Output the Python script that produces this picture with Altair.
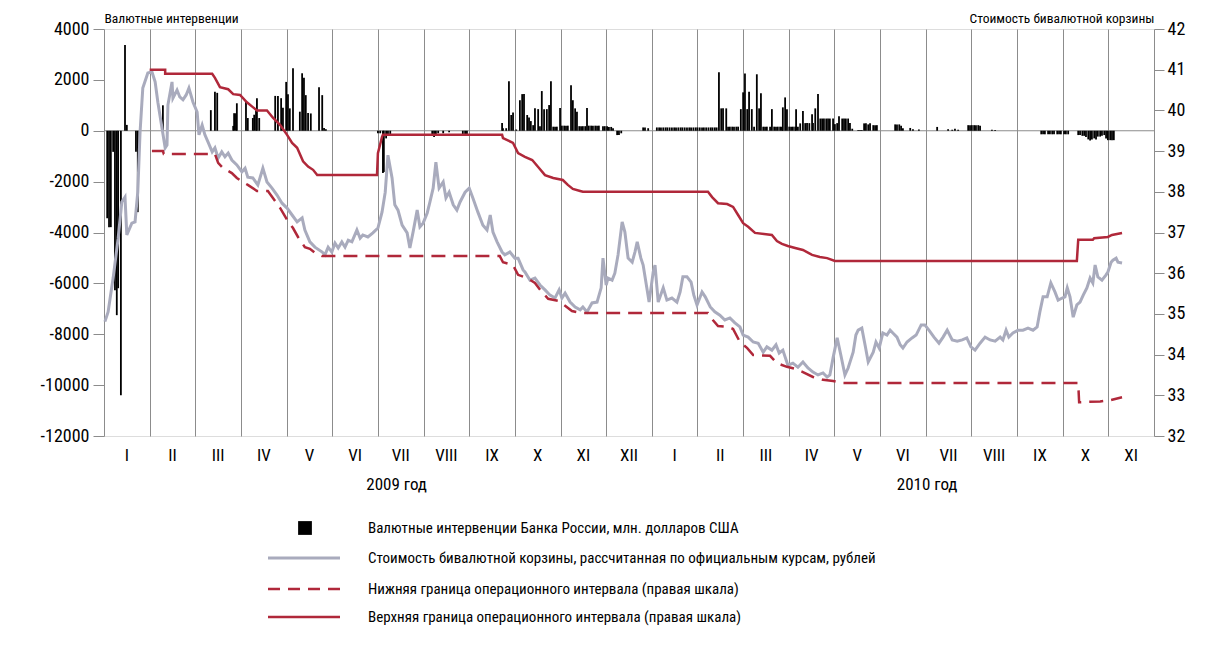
import altair as alt
import pandas as pd

# ---------------- data (x = months since start of January 2009) ----------------
month_labels = ["I", "II", "III", "IV", "V", "VI", "VII", "VIII", "IX", "X", "XI", "XII",
                "I", "II", "III", "IV", "V", "VI", "VII", "VIII", "IX", "X", "XI"]
year_labels = ["2009 год", "2010 год"]
year_pos = [6.41, 18.03]

basket_x = [0.02, 0.09, 0.20, 0.31, 0.39, 0.46, 0.50, 0.61, 0.68, 0.74,
            0.79, 0.85, 0.96, 1.05, 1.12, 1.18, 1.27, 1.34, 1.38, 1.40,
            1.49, 1.51, 1.60, 1.66, 1.73, 1.80, 1.86, 1.95, 2.04, 2.08,
            2.15, 2.21, 2.28, 2.37, 2.43, 2.50, 2.58, 2.65, 2.72, 2.80,
            2.91, 3.02, 3.09, 3.15, 3.26, 3.37, 3.48, 3.57, 3.68, 3.79,
            3.90, 4.01, 4.12, 4.23, 4.34, 4.40, 4.51, 4.62, 4.78, 4.84,
            4.91, 4.99, 5.06, 5.13, 5.21, 5.28, 5.35, 5.43, 5.54, 5.61,
            5.67, 5.78, 5.89, 6.00, 6.09, 6.16, 6.22, 6.31, 6.37, 6.44,
            6.53, 6.64, 6.70, 6.77, 6.86, 6.92, 6.99, 7.08, 7.14, 7.21,
            7.27, 7.34, 7.43, 7.49, 7.56, 7.65, 7.73, 7.80, 7.91, 8.00,
            8.08, 8.19, 8.30, 8.39, 8.46, 8.52, 8.61, 8.72, 8.78, 8.89,
            9.00, 9.07, 9.18, 9.22, 9.33, 9.44, 9.55, 9.66, 9.77, 9.88,
            9.97, 10.03, 10.10, 10.21, 10.32, 10.43, 10.49, 10.58, 10.69, 10.80,
            10.89, 10.93, 11.00, 11.04, 11.13, 11.19, 11.26, 11.35, 11.41, 11.48,
            11.57, 11.63, 11.68, 11.76, 11.81, 11.89, 11.94, 12.03, 12.07, 12.14,
            12.25, 12.33, 12.44, 12.55, 12.62, 12.68, 12.77, 12.86, 12.92, 12.99,
            13.10, 13.17, 13.28, 13.38, 13.49, 13.60, 13.71, 13.82, 13.93, 14.00,
            14.11, 14.22, 14.33, 14.44, 14.52, 14.63, 14.72, 14.79, 14.87, 14.98,
            15.09, 15.20, 15.31, 15.42, 15.53, 15.64, 15.75, 15.84, 15.90, 15.97,
            16.06, 16.14, 16.23, 16.30, 16.41, 16.47, 16.52, 16.60, 16.67, 16.74,
            16.85, 16.91, 16.98, 17.06, 17.15, 17.22, 17.28, 17.37, 17.44, 17.50,
            17.59, 17.70, 17.79, 17.90, 17.98, 18.07, 18.18, 18.29, 18.38, 18.47,
            18.58, 18.69, 18.80, 18.90, 18.99, 19.08, 19.19, 19.30, 19.41, 19.52,
            19.63, 19.69, 19.76, 19.82, 19.91, 20.02, 20.13, 20.24, 20.35, 20.44,
            20.50, 20.57, 20.66, 20.74, 20.83, 20.90, 20.99, 21.05, 21.10, 21.16,
            21.23, 21.31, 21.38, 21.45, 21.53, 21.60, 21.66, 21.71, 21.77, 21.86,
            21.95, 21.99, 22.06, 22.10, 22.17, 22.21, 22.30]
basket_v = [34.81, 35.05, 35.88, 36.86, 37.75, 37.87, 36.94, 37.23, 37.26, 38.0,
            39.47, 40.55, 40.92, 40.95, 40.70, 40.2, 39.57, 39.08, 39.15, 40.13,
            40.70, 40.3, 40.5, 40.33, 40.26, 40.38, 40.55, 40.2, 39.96, 39.4,
            39.64, 39.4, 39.22, 38.98, 39.08, 38.83, 38.98, 38.86, 38.95, 38.78,
            38.66, 38.49, 38.58, 38.36, 38.34, 38.17, 38.58, 38.24, 38.09, 37.92,
            37.72, 37.6, 37.43, 37.26, 37.36, 37.06, 36.77, 36.64, 36.52, 36.45,
            36.64, 36.52, 36.74, 36.62, 36.77, 36.64, 36.81, 36.77, 37.06, 36.86,
            36.94, 36.89, 36.99, 37.11, 37.5, 37.99, 38.9, 38.34, 37.68, 37.55,
            37.18, 36.99, 36.62, 37.01, 37.55, 37.14, 37.23, 37.48, 37.75, 38.09,
            38.73, 38.09, 38.24, 37.85, 37.99, 37.68, 37.55, 37.75, 37.99, 38.09,
            37.85, 37.5, 37.18, 37.06, 37.43, 37.01, 36.77, 36.52, 36.45, 36.52,
            36.37, 36.37, 36.08, 36.03, 35.83, 35.88, 35.71, 35.59, 35.46, 35.39,
            35.59, 35.39, 35.51, 35.29, 35.17, 35.1, 35.17, 35.05, 35.27, 35.29,
            35.64, 36.37, 35.71, 35.88, 35.83, 36.0, 36.45, 37.26, 37.01, 36.37,
            36.27, 36.52, 36.77, 36.37, 36.2, 35.64, 35.29, 36.03, 36.2, 35.29,
            35.64, 35.34, 35.39, 35.29, 35.54, 35.91, 35.91, 35.78, 35.46, 35.22,
            35.54, 35.42, 35.17, 35.05, 34.97, 34.85, 34.9, 34.78, 34.68, 34.48,
            34.43, 34.31, 34.28, 34.06, 34.19, 34.11, 34.24, 34.04, 34.11, 33.74,
            33.79, 33.69, 33.82, 33.67, 33.57, 33.5, 33.55, 33.45, 33.5, 33.92,
            34.41, 33.99, 33.5, 33.67, 34.06, 34.48, 34.6, 34.65, 34.24, 33.82,
            34.06, 34.31, 34.16, 34.53, 34.48, 34.6, 34.53, 34.43, 34.24, 34.16,
            34.31, 34.41, 34.48, 34.73, 34.73, 34.6, 34.43, 34.28, 34.43, 34.6,
            34.36, 34.33, 34.36, 34.41, 34.19, 34.11, 34.28, 34.43, 34.36, 34.33,
            34.43, 34.36, 34.6, 34.43, 34.53, 34.6, 34.6, 34.65, 34.6, 34.68,
            35.05, 35.42, 35.42, 35.76, 35.54, 35.34, 35.39, 35.42, 35.64, 35.42,
            34.92, 35.22, 35.29, 35.46, 35.64, 35.88, 35.76, 36.2, 35.91, 35.83,
            35.96, 36.03, 36.27, 36.32, 36.37, 36.27, 36.25]

upper_x = [1.00, 1.34, 1.34, 2.37, 2.43, 2.54, 2.72, 2.83, 2.98, 3.13,
           3.26, 3.35, 3.57, 3.70, 3.86, 4.01, 4.12, 4.23, 4.36, 4.47,
           4.58, 4.67, 5.98, 6.00, 6.09, 6.11, 8.72, 8.74, 8.96, 9.07,
           9.22, 9.38, 9.51, 9.66, 9.84, 10.05, 10.16, 10.27, 10.43, 10.49,
           13.23, 13.32, 13.45, 13.65, 13.78, 13.89, 14.00, 14.11, 14.26, 14.63,
           14.74, 14.85, 14.98, 15.14, 15.31, 15.51, 15.68, 15.84, 16.01, 21.31,
           21.34, 21.66, 21.69, 21.99, 22.08, 22.30]
upper_v = [41.0, 41.0, 40.9, 40.9, 40.8, 40.57, 40.52, 40.4, 40.38, 40.2,
           40.08, 40.0, 40.0, 39.82, 39.64, 39.4, 39.2, 39.08, 38.75, 38.62,
           38.54, 38.41, 38.41, 38.95, 39.35, 39.4, 39.4, 39.32, 39.2, 38.95,
           38.86, 38.78, 38.61, 38.41, 38.34, 38.29, 38.17, 38.07, 38.02, 38.0,
           38.0, 37.87, 37.72, 37.7, 37.63, 37.43, 37.23, 37.14, 36.99, 36.94,
           36.79, 36.72, 36.67, 36.62, 36.57, 36.45, 36.4, 36.37, 36.3, 36.3,
           36.82, 36.82, 36.86, 36.89, 36.94, 36.99]

lower_x = [1.05, 1.29, 1.31, 2.43, 2.50, 2.61, 2.80, 2.91, 3.04, 3.15,
           3.35, 3.59, 3.70, 3.86, 4.01, 4.14, 4.25, 4.40, 4.51, 4.62,
           4.78, 8.67, 8.74, 8.96, 9.07, 9.27, 9.44, 9.59, 9.73, 9.95,
           10.10, 10.25, 10.47, 13.23, 13.32, 13.45, 13.67, 13.78, 13.93, 14.09,
           14.22, 14.59, 14.74, 14.96, 15.14, 15.31, 15.53, 15.75, 15.97, 16.19,
           21.34, 21.36, 21.82, 22.04, 22.30]
lower_v = [39.0, 39.0, 38.93, 38.93, 38.71, 38.58, 38.46, 38.34, 38.24, 38.17,
           38.02, 38.02, 37.85, 37.6, 37.31, 37.11, 36.89, 36.64, 36.6, 36.5,
           36.42, 36.42, 36.27, 36.2, 35.96, 35.88, 35.76, 35.54, 35.37, 35.32,
           35.2, 35.07, 35.02, 35.02, 34.87, 34.7, 34.68, 34.63, 34.31, 34.16,
           33.99, 33.97, 33.79, 33.7, 33.65, 33.57, 33.45, 33.38, 33.35, 33.3,
           33.3, 32.83, 32.85, 32.88, 32.95]

# interventions, mln USD: (month position, value)
interv_2009_h1 = [(0.07, -3440), (0.11, -3790), (0.15, -3790), (0.20, -830), (0.24, -6270),
                  (0.28, -7250), (0.31, -6190), (0.37, -10400), (0.46, 3370), (0.50, 230),
                  (0.70, -830), (0.74, -3200), (1.29, 1000), (2.34, 810), (2.43, 1530),
                  (2.48, 1490), (2.83, 190), (2.85, 690), (2.89, 690), (2.91, 1080),
                  (3.11, 1130), (3.15, 500), (3.26, 500), (3.29, 630), (3.33, 810),
                  (3.35, 1280), (3.40, 500), (3.75, 1370), (3.81, 1370), (3.88, 1280),
                  (3.92, 900), (3.99, 1920), (4.03, 1430), (4.07, 880), (4.14, 2460),
                  (4.29, 750), (4.34, 2260), (4.38, 2080), (4.42, 1400), (4.47, 700),
                  (4.53, 680), (4.71, 1710), (4.78, 1400), (4.82, 110), (4.86, 60)]
interv_2009_h2 = [(6.00, -100), (6.05, -100), (6.11, -1660), (6.13, -1620), (6.18, -300),
                  (6.22, -170), (6.27, -170), (7.19, -200), (7.23, -250), (7.27, -150),
                  (7.32, -100), (7.43, -100), (7.56, -60), (7.86, -150), (7.91, -200),
                  (7.95, -150), (8.72, 300), (8.74, 100), (8.81, 100), (8.87, 1950),
                  (8.92, 620), (8.96, 720), (9.03, 50), (9.11, 1200), (9.16, 1440),
                  (9.20, 1440), (9.27, 620), (9.31, 520), (9.35, 380), (9.40, 220),
                  (9.44, 880), (9.51, 850), (9.55, 180), (9.59, 1560), (9.64, 850),
                  (9.70, 850), (9.75, 1010), (9.79, 1950), (9.84, 160), (9.88, 160),
                  (9.92, 160), (9.99, 890), (10.03, 200), (10.08, 200), (10.12, 200),
                  (10.16, 200), (10.23, 1790), (10.27, 1200), (10.32, 880), (10.36, 750),
                  (10.41, 180), (10.45, 180), (10.49, 180), (10.54, 180), (10.58, 890),
                  (10.62, 200), (10.67, 200), (10.71, 200), (10.76, 200), (10.80, 200),
                  (10.84, 200), (10.93, 180), (10.97, 180), (11.02, 180), (11.06, 150),
                  (11.11, 150), (11.15, 100), (11.24, -170), (11.28, -170), (11.33, -100)]
interv_2010_h1 = [(11.81, 130), (11.85, 130), (11.92, 100), (12.11, 130), (12.16, 130),
                  (12.20, 130), (12.25, 130), (12.30, 130), (12.34, 130), (12.39, 130),
                  (12.44, 130), (12.49, 130), (12.53, 130), (12.58, 130), (12.63, 130),
                  (12.67, 130), (12.72, 130), (12.77, 130), (12.82, 130), (12.86, 130),
                  (12.91, 130), (12.96, 130), (13.00, 130), (13.05, 130), (13.10, 130),
                  (13.14, 130), (13.19, 130), (13.24, 130), (13.29, 130), (13.33, 130),
                  (13.38, 130), (13.42, 130), (13.47, 2300), (13.52, 880), (13.56, 880),
                  (13.63, 880), (13.67, 160), (13.71, 160), (13.76, 160), (13.80, 160),
                  (13.85, 160), (13.89, 160), (13.95, 850), (14.00, 1510), (14.04, 2250),
                  (14.09, 850), (14.13, 1530), (14.19, 850), (14.24, 160), (14.30, 2220),
                  (14.35, 880), (14.39, 1470), (14.44, 160), (14.48, 160), (14.52, 160),
                  (14.59, 160), (14.63, 850), (14.68, 160), (14.72, 160), (14.76, 160),
                  (14.81, 160), (14.85, 160), (14.87, 920), (14.92, 1310), (14.96, 850),
                  (15.01, 160), (15.05, 160), (15.09, 160), (15.14, 160), (15.16, 850),
                  (15.20, 160), (15.25, 290), (15.31, 780), (15.36, 300), (15.40, 300),
                  (15.45, 300), (15.51, 650), (15.53, 300), (15.58, 880), (15.64, 1440),
                  (15.69, 480), (15.73, 480), (15.77, 480), (15.82, 480), (15.86, 480),
                  (15.90, 480), (15.97, 480), (16.01, 260), (16.06, 300), (16.10, 570),
                  (16.17, 480), (16.21, 480), (16.25, 480), (16.30, 480), (16.34, 300),
                  (16.39, 80), (16.52, 30), (16.56, 30), (16.60, 30), (16.65, 290),
                  (16.69, 290), (16.74, 250), (16.78, 290), (16.85, 220), (16.89, 220),
                  (16.93, 220)]
interv_2010_h2 = [(17.33, 250), (17.37, 250), (17.42, 250), (17.46, 200), (17.50, 100),
                  (17.66, 110), (17.72, 60), (17.85, 50), (18.25, 150), (18.49, 60),
                  (18.58, 40), (18.64, 80), (18.71, 40), (18.93, 220), (18.97, 220),
                  (19.01, 220), (19.06, 220), (19.10, 220), (19.15, 220), (19.19, 200),
                  (19.45, 40), (19.52, 30), (20.53, -140), (20.57, -140), (20.61, -140),
                  (20.68, -140), (20.72, -140), (20.77, -140), (20.81, -140), (20.88, -140),
                  (20.92, -140), (20.96, -140), (21.03, -140), (21.07, -140), (21.12, -140),
                  (21.34, -170), (21.38, -170), (21.43, -200), (21.47, -200), (21.51, -250),
                  (21.56, -340), (21.60, -380), (21.64, -340), (21.69, -300), (21.73, -340),
                  (21.77, -230), (21.82, -230), (21.86, -200), (21.91, -170), (21.95, -300),
                  (21.99, -370), (22.04, -370), (22.08, -370), (22.12, -370)]

legend_texts = [
    "Валютные интервенции Банка России, млн. долларов США",
    "Стоимость бивалютной корзины, рассчитанная по официальным курсам, рублей",
    "Нижняя граница операционного интервала (правая шкала)",
    "Верхняя граница операционного интервала (правая шкала)",
]

# ---------------- styling ----------------
W, H = 1050, 407
FONT = "Roboto Condensed"
GRID = "#8c8c8c"
RED = "#b0283a"
GRAY = "#a9abbd"

x_scale = alt.Scale(domain=[0, 23], nice=False, zero=False)
yl_scale = alt.Scale(domain=[-12000, 4000], nice=False, zero=False)
yr_scale = alt.Scale(domain=[32, 42], nice=False, zero=False)

bars_df = pd.DataFrame(interv_2009_h1 + interv_2009_h2 + interv_2010_h1 + interv_2010_h2,
                       columns=["m", "v"])
basket_df = pd.DataFrame({"m": basket_x, "v": basket_v, "i": range(len(basket_x))})
upper_df = pd.DataFrame({"m": upper_x, "v": upper_v, "i": range(len(upper_x))})
lower_df = pd.DataFrame({"m": lower_x, "v": lower_v, "i": range(len(lower_x))})
months_df = pd.DataFrame({"m": [k + 0.5 for k in range(len(month_labels))], "t": month_labels})
years_df = pd.DataFrame({"m": year_pos, "t": year_labels})

x_enc = alt.X("m:Q", scale=x_scale,
              axis=alt.Axis(values=list(range(24)), grid=True, gridColor=GRID, gridWidth=1,
                            labels=False, ticks=False, domain=False, title=None))

left_axis = alt.Axis(orient="left", values=list(range(-12000, 4001, 2000)),
                     labelExpr="datum.value + ''", tickSize=11, tickColor=GRID, tickWidth=1,
                     domain=False, grid=False, labelFontSize=18, labelFont=FONT,
                     labelColor="black", labelPadding=4,
                     title="Валютные интервенции", titleAngle=0, titleAlign="left",
                     titleBaseline="alphabetic", titleX=0, titleY=-7, titleFontSize=13.5,
                     titleFont=FONT, titleFontWeight="normal", titleColor="black")
right_axis = alt.Axis(orient="right", values=list(range(32, 43)), tickSize=10, tickColor=GRID,
                      tickWidth=1, domain=False, grid=False, labelFontSize=18, labelFont=FONT,
                      labelColor="black", labelPadding=3,
                      title="Стоимость бивалютной корзины", titleAngle=0, titleAlign="right",
                      titleBaseline="alphabetic", titleX=0, titleY=-7, titleFontSize=13.5,
                      titleFont=FONT, titleFontWeight="normal", titleColor="black")

zero_line = alt.Chart(pd.DataFrame({"z": [0]})).mark_rule(color=GRID, strokeWidth=1).encode(
    y=alt.Y("z:Q", scale=yl_scale, axis=left_axis)
)
bars = alt.Chart(bars_df).mark_rule(color="black", strokeWidth=1.8).encode(
    x=x_enc,
    y=alt.Y("v:Q", scale=yl_scale, axis=None),
    y2=alt.datum(0),
)
basket = alt.Chart(basket_df).mark_line(color=GRAY, strokeWidth=3).encode(
    x=x_enc,
    y=alt.Y("v:Q", scale=yr_scale, axis=right_axis),
    order="i:Q",
)
upper = alt.Chart(upper_df).mark_line(color=RED, strokeWidth=2.5).encode(
    x=x_enc,
    y=alt.Y("v:Q", scale=yr_scale, axis=None),
    order="i:Q",
)
lower = alt.Chart(lower_df).mark_line(color=RED, strokeWidth=2.5, strokeDash=[14, 8]).encode(
    x=x_enc,
    y=alt.Y("v:Q", scale=yr_scale, axis=None),
    order="i:Q",
)

month_text = alt.Chart(months_df).mark_text(fontSize=17, font=FONT, color="black",
                                            baseline="middle", align="center").encode(
    x=x_enc, y=alt.value(H + 20), text="t:N"
)
year_text = alt.Chart(years_df).mark_text(fontSize=17, font=FONT, color="black",
                                          baseline="middle", align="center").encode(
    x=x_enc, y=alt.value(H + 49), text="t:N"
)

one = pd.DataFrame({"a": [0]})
leg_rows = [H + 92, H + 122, H + 153, H + 181]
leg_sq = alt.Chart(one).mark_square(size=190, color="black", opacity=1).encode(
    x=alt.value(201), y=alt.value(leg_rows[0]))
leg_gray = alt.Chart(one).mark_rule(color=GRAY, strokeWidth=3).encode(
    x=alt.value(164), x2=alt.value(236), y=alt.value(leg_rows[1]))
leg_dash = alt.Chart(one).mark_rule(color=RED, strokeWidth=2.5, strokeDash=[12, 8]).encode(
    x=alt.value(164), x2=alt.value(236), y=alt.value(leg_rows[2]))
leg_solid = alt.Chart(one).mark_rule(color=RED, strokeWidth=2.5).encode(
    x=alt.value(164), x2=alt.value(236), y=alt.value(leg_rows[3]))
leg_texts = [
    alt.Chart(one).mark_text(fontSize=15, font=FONT, color="black", align="left",
                             baseline="middle").encode(
        x=alt.value(264), y=alt.value(yy), text=alt.value(tt))
    for tt, yy in zip(legend_texts, leg_rows)
]

chart = alt.layer(
    zero_line, bars, basket, upper, lower, month_text, year_text,
    leg_sq, leg_gray, leg_dash, leg_solid, *leg_texts
).resolve_scale(y="independent").properties(
    width=W, height=H,
    padding={"left": 96, "top": 21, "right": 57, "bottom": 210},
    autosize=alt.AutoSizeParams(type="none"),
).configure_view(stroke=GRID, strokeWidth=1).configure(background="white")

chart.save("out.html", embed_options={"renderer": "svg", "actions": False})
